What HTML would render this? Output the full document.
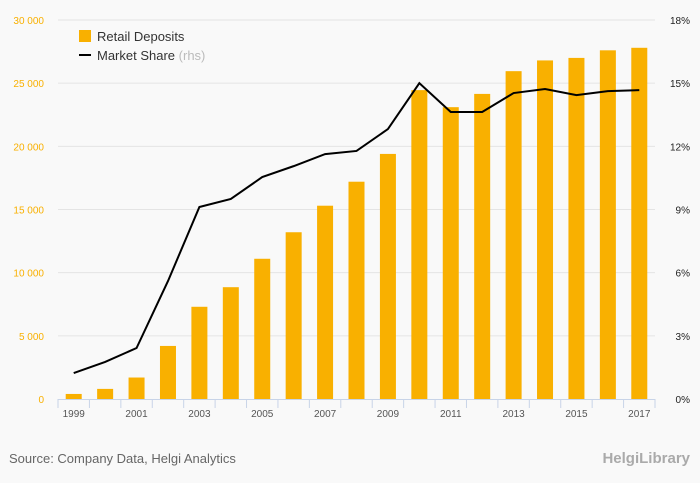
<!DOCTYPE html>
<html><head><meta charset="utf-8"><style>
body{margin:0;background:#f9f9f9;font-family:"Liberation Sans",sans-serif;}
svg{display:block}
</style></head><body>
<svg id="c" width="700" height="483">
<rect width="700" height="483" fill="#f9f9f9"/>
<g id="grid"></g><g id="bars"></g><g id="line"></g><g id="axes"></g>
<g>
<rect x="79" y="30" width="12" height="12" fill="#f9b000"/>
<text x="97" y="41" font-size="13" fill="#333">Retail Deposits</text>
<rect x="79" y="54" width="12" height="2" fill="#000"/>
<text x="97" y="60" font-size="13" fill="#333">Market Share <tspan fill="#bbb">(rhs)</tspan></text>
</g>
<text x="9" y="463" font-size="13" fill="#666">Source: Company Data, Helgi Analytics</text>
<text x="690" y="463" font-size="15" fill="#aaa" text-anchor="end" font-weight="bold">HelgiLibrary</text>
</svg>
<script>
const years=[1999,2000,2001,2002,2003,2004,2005,2006,2007,2008,2009,2010,2011,2012,2013,2014,2015,2016,2017];
const deposits=[400,800,1700,4200,7300,8850,11100,13200,15300,17200,19400,24450,23100,24150,25950,26800,27000,27600,27800];
const share=[1.23,1.76,2.42,5.6,9.12,9.5,10.54,11.06,11.63,11.78,12.82,15.0,13.63,13.63,14.53,14.72,14.43,14.62,14.67];
const leftTicks=[0,5000,10000,15000,20000,25000,30000];
const rightTicks=[0,3,6,9,12,15,18];
const NS="http://www.w3.org/2000/svg";
const L=58,R=655,T=20,B=399,bw=(R-L)/years.length;
const x=i=>L+bw*(i+0.5);
const yl=v=>B-(v/30000)*(B-T);
const yr=v=>B-(v/18)*(B-T);
function mk(t,a,p){const e=document.createElementNS(NS,t);for(const k in a)e.setAttribute(k,a[k]);document.getElementById(p).appendChild(e);return e;}
leftTicks.forEach((v,i)=>{
 if(v>0){const g=mk('line',{x1:L,x2:R,y1:yl(v),y2:yl(v),stroke:'#e4e4e4'},'grid');
 
 }
 const t=mk('text',{x:44,y:yl(v)+4,'font-size':10,fill:'#f9b000','text-anchor':'end'},'axes');
 t.textContent=v===0?'0':v.toLocaleString('en-US').replace(/,/g,' ');
 
 
});
rightTicks.forEach(v=>{
 const t=mk('text',{x:690,y:yr(v)+4,'font-size':10,fill:'#222','text-anchor':'end'},'axes');
 t.textContent=v+'%';
 
 
});
deposits.forEach((v,i)=>{
 const r=mk('rect',{x:x(i)-8,y:yl(v),width:16,height:B-yl(v),fill:'#f9b000'},'bars');
 
 
});
const p=mk('polyline',{points:share.map((v,i)=>x(i)+','+yr(v)).join(' '),fill:'none',stroke:'#000','stroke-width':2},'line');


const ax=mk('line',{x1:L,x2:R,y1:B+0.5,y2:B+0.5,stroke:'#c8d4e8'},'axes');


for(let i=0;i<=years.length;i++){
 const tk=mk('line',{x1:L+bw*i,x2:L+bw*i,y1:B,y2:B+9,stroke:'#c8d4e8'},'axes');
 
 
}
years.forEach((y,i)=>{ if(i%2)return;
 const t=mk('text',{x:x(i),y:B+18,'font-size':10,fill:'#555','text-anchor':'middle'},'axes');
 t.textContent=y;
 
 
});
</script>
</body></html>
